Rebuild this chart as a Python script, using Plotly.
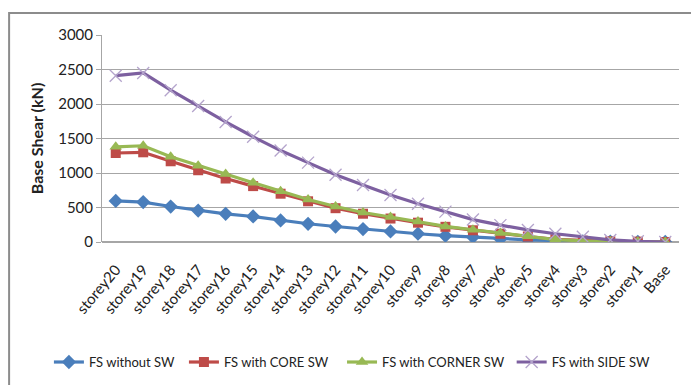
import plotly.graph_objects as go

storeys = ["storey20", "storey19", "storey18", "storey17", "storey16", "storey15",
           "storey14", "storey13", "storey12", "storey11", "storey10", "storey9",
           "storey8", "storey7", "storey6", "storey5", "storey4", "storey3",
           "storey2", "storey1", "Base"]

fs_without_sw = [596, 578, 514, 456, 408, 370, 312, 264, 225, 188, 153, 120,
                 91, 72, 45, 32, 20, 10, 5, 2, 0]
fs_core_sw = [1290, 1300, 1170, 1040, 920, 810, 700, 590, 490, 410, 340, 280,
              220, 170, 120, 80, 40, 20, 10, 5, 0]
fs_corner_sw = [1380, 1395, 1235, 1105, 985, 860, 735, 615, 515, 428, 362, 298,
                226, 178, 130, 82, 35, 15, 6, 2, 0]
fs_side_sw = [2410, 2450, 2200, 1970, 1740, 1525, 1325, 1150, 975, 825, 680, 555,
              440, 325, 245, 175, 120, 75, 30, 10, 0]

font_family = "Lato, Open Sans, sans-serif"

series = [
    ("FS without SW", fs_without_sw, "#4a7ebb", dict(symbol="diamond", size=11, color="#4a7ebb")),
    ("FS with CORE SW", fs_core_sw, "#be4b48", dict(symbol="square", size=10, color="#be4b48")),
    ("FS with CORNER SW", fs_corner_sw, "#98b954", dict(symbol="triangle-up", size=11, color="#98b954")),
    ("FS with SIDE SW", fs_side_sw, "#7d60a0",
     dict(symbol="x-thin-open", size=12, color="#b4a4cc", line=dict(width=1.3, color="#b4a4cc"))),
]

# one legend box per series so each entry sits at its own spot along the bottom row
legend_ids = ["legend", "legend2", "legend3", "legend4"]
legend_x = [-0.092, 0.142, 0.416, 0.71]

fig = go.Figure()
for (name, vals, col, mk), lid in zip(series, legend_ids):
    fig.add_trace(go.Scatter(
        x=storeys, y=vals, name=name, mode="lines+markers",
        line=dict(color=col, width=3.2),
        marker=mk, legend=lid,
    ))

legend_common = dict(orientation="h", xanchor="left", y=-0.58, yanchor="middle",
                     font=dict(size=13), itemwidth=30, bgcolor="rgba(0,0,0,0)")
legends = {lid: dict(legend_common, x=lx) for lid, lx in zip(legend_ids, legend_x)}

fig.update_layout(
    width=691, height=385,
    margin=dict(l=102, r=12, t=35, b=143, autoexpand=False),
    paper_bgcolor="white", plot_bgcolor="white",
    font=dict(family=font_family, size=14, color="#222"),
    showlegend=True,
    **legends,
    xaxis=dict(
        type="category", tickangle=-50, showgrid=False, showline=False,
        tickfont=dict(size=15), ticks="outside", ticklen=12,
        tickcolor="rgba(0,0,0,0)", range=[-0.5, 20.5],
        automargin=False,
    ),
    yaxis=dict(
        range=[0, 3000], dtick=500, showgrid=True, gridcolor="#a6a6a6", gridwidth=1,
        showline=True, linecolor="#a6a6a6", zeroline=True, zerolinecolor="#a6a6a6",
        ticks="outside", ticklen=5, tickcolor="#a6a6a6",
        tickfont=dict(size=15), automargin=False,
        title=dict(text="<b>Base Shear (kN)</b>", font=dict(size=16), standoff=10),
    ),
    shapes=[dict(type="rect", xref="paper", yref="paper",
                 x0=-0.161, x1=1.2, y0=-1.0, y1=1.106,
                 line=dict(color="#8c8c8c", width=2), fillcolor="rgba(0,0,0,0)")],
)

fig.write_html("out.html")
